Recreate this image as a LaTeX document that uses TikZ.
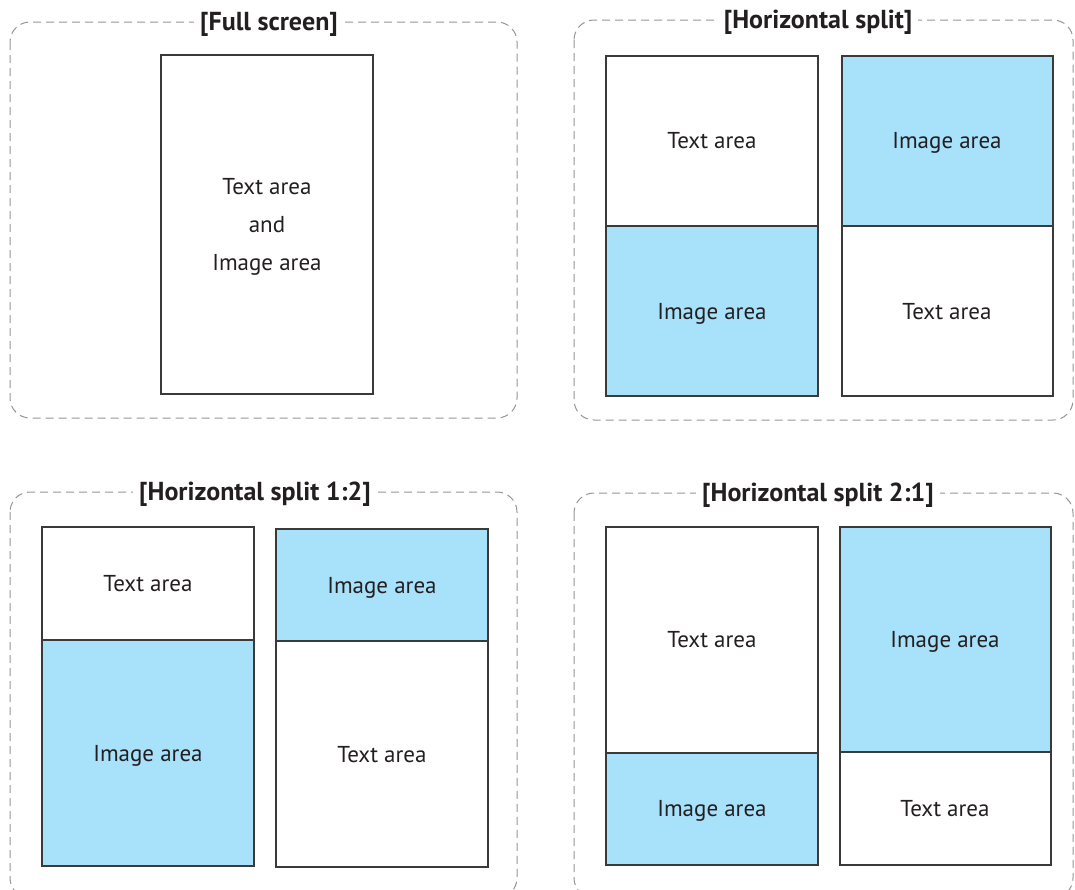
\documentclass[tikz,border=0pt]{standalone}
\usepackage{fontspec}
\setmainfont{PT Sans}
\definecolor{imgblue}{HTML}{A8E1FA}
\definecolor{txt}{HTML}{231F20}
\definecolor{dashgray}{HTML}{959595}
\definecolor{edge}{HTML}{3A3A3A}
\begin{document}
\begin{tikzpicture}[x=1pt,y=-1pt,
  panel/.style={draw=dashgray, line width=1pt, dash pattern=on 8pt off 5pt, rounded corners=20pt},
  ptitle/.style={fill=white, font=\bfseries\fontsize{26}{30}\selectfont, text=txt, inner xsep=6pt, inner ysep=3pt, anchor=base},
  area/.style={draw=edge, line width=1.2pt},
  imgarea/.style={area, fill=imgblue},
  lbl/.style={font=\fontsize{23}{27}\selectfont, text=txt, anchor=base, inner sep=0pt}]
\useasboundingbox (0,0) rectangle (1075,889);

% ---------- Panel 1: Full screen ----------
\draw[panel] (10,22) rectangle (517,418);
\node[ptitle] (t1) at (269,30) {[Full screen]};
\draw[area] (161,55) rectangle (373,394);
\node[lbl] (p1a) at (267,194) {Text area};
\node[lbl] (p1b) at (267,232) {and};
\node[lbl] (p1c) at (267,270) {Image area};

% ---------- Panel 2: Horizontal split ----------
\draw[panel] (574,20) rectangle (1073,420);
\node[ptitle] (t2) at (818,28) {[Horizontal split]};
\draw[area] (606,56) rectangle (818,226);
\draw[imgarea] (606,226) rectangle (818,396);
\draw[imgarea] (842,56) rectangle (1053,226);
\draw[area] (842,226) rectangle (1053,396);
\node[lbl] (p2a) at (712,148) {Text area};
\node[lbl] (p2b) at (712,319) {Image area};
\node[lbl] (p2c) at (947,148) {Image area};
\node[lbl] (p2d) at (947,319) {Text area};

% ---------- Panel 3: Horizontal split 1:2 ----------
\draw[panel] (10,492) rectangle (517,898);
\node[ptitle] (t3) at (255,500) {[Horizontal split 1:2]};
\draw[area] (42,527) rectangle (254,640);
\draw[imgarea] (42,640) rectangle (254,866);
\draw[imgarea] (276,529) rectangle (488,641);
\draw[area] (276,641) rectangle (488,867);
\node[lbl] (p3a) at (148,591) {Text area};
\node[lbl] (p3b) at (148,761) {Image area};
\node[lbl] (p3c) at (382,593) {Image area};
\node[lbl] (p3d) at (382,762) {Text area};

% ---------- Panel 4: Horizontal split 2:1 ----------
\draw[panel] (574,493) rectangle (1073,898);
\node[ptitle] (t4) at (818,501) {[Horizontal split 2:1]};
\draw[area] (606,527) rectangle (818,753);
\draw[imgarea] (606,753) rectangle (818,865);
\draw[imgarea] (840,527) rectangle (1051,752);
\draw[area] (840,752) rectangle (1051,865);
\node[lbl] (p4a) at (712,647) {Text area};
\node[lbl] (p4b) at (712,816) {Image area};
\node[lbl] (p4c) at (945,647) {Image area};
\node[lbl] (p4d) at (945,816) {Text area};
\end{tikzpicture}
\end{document}
